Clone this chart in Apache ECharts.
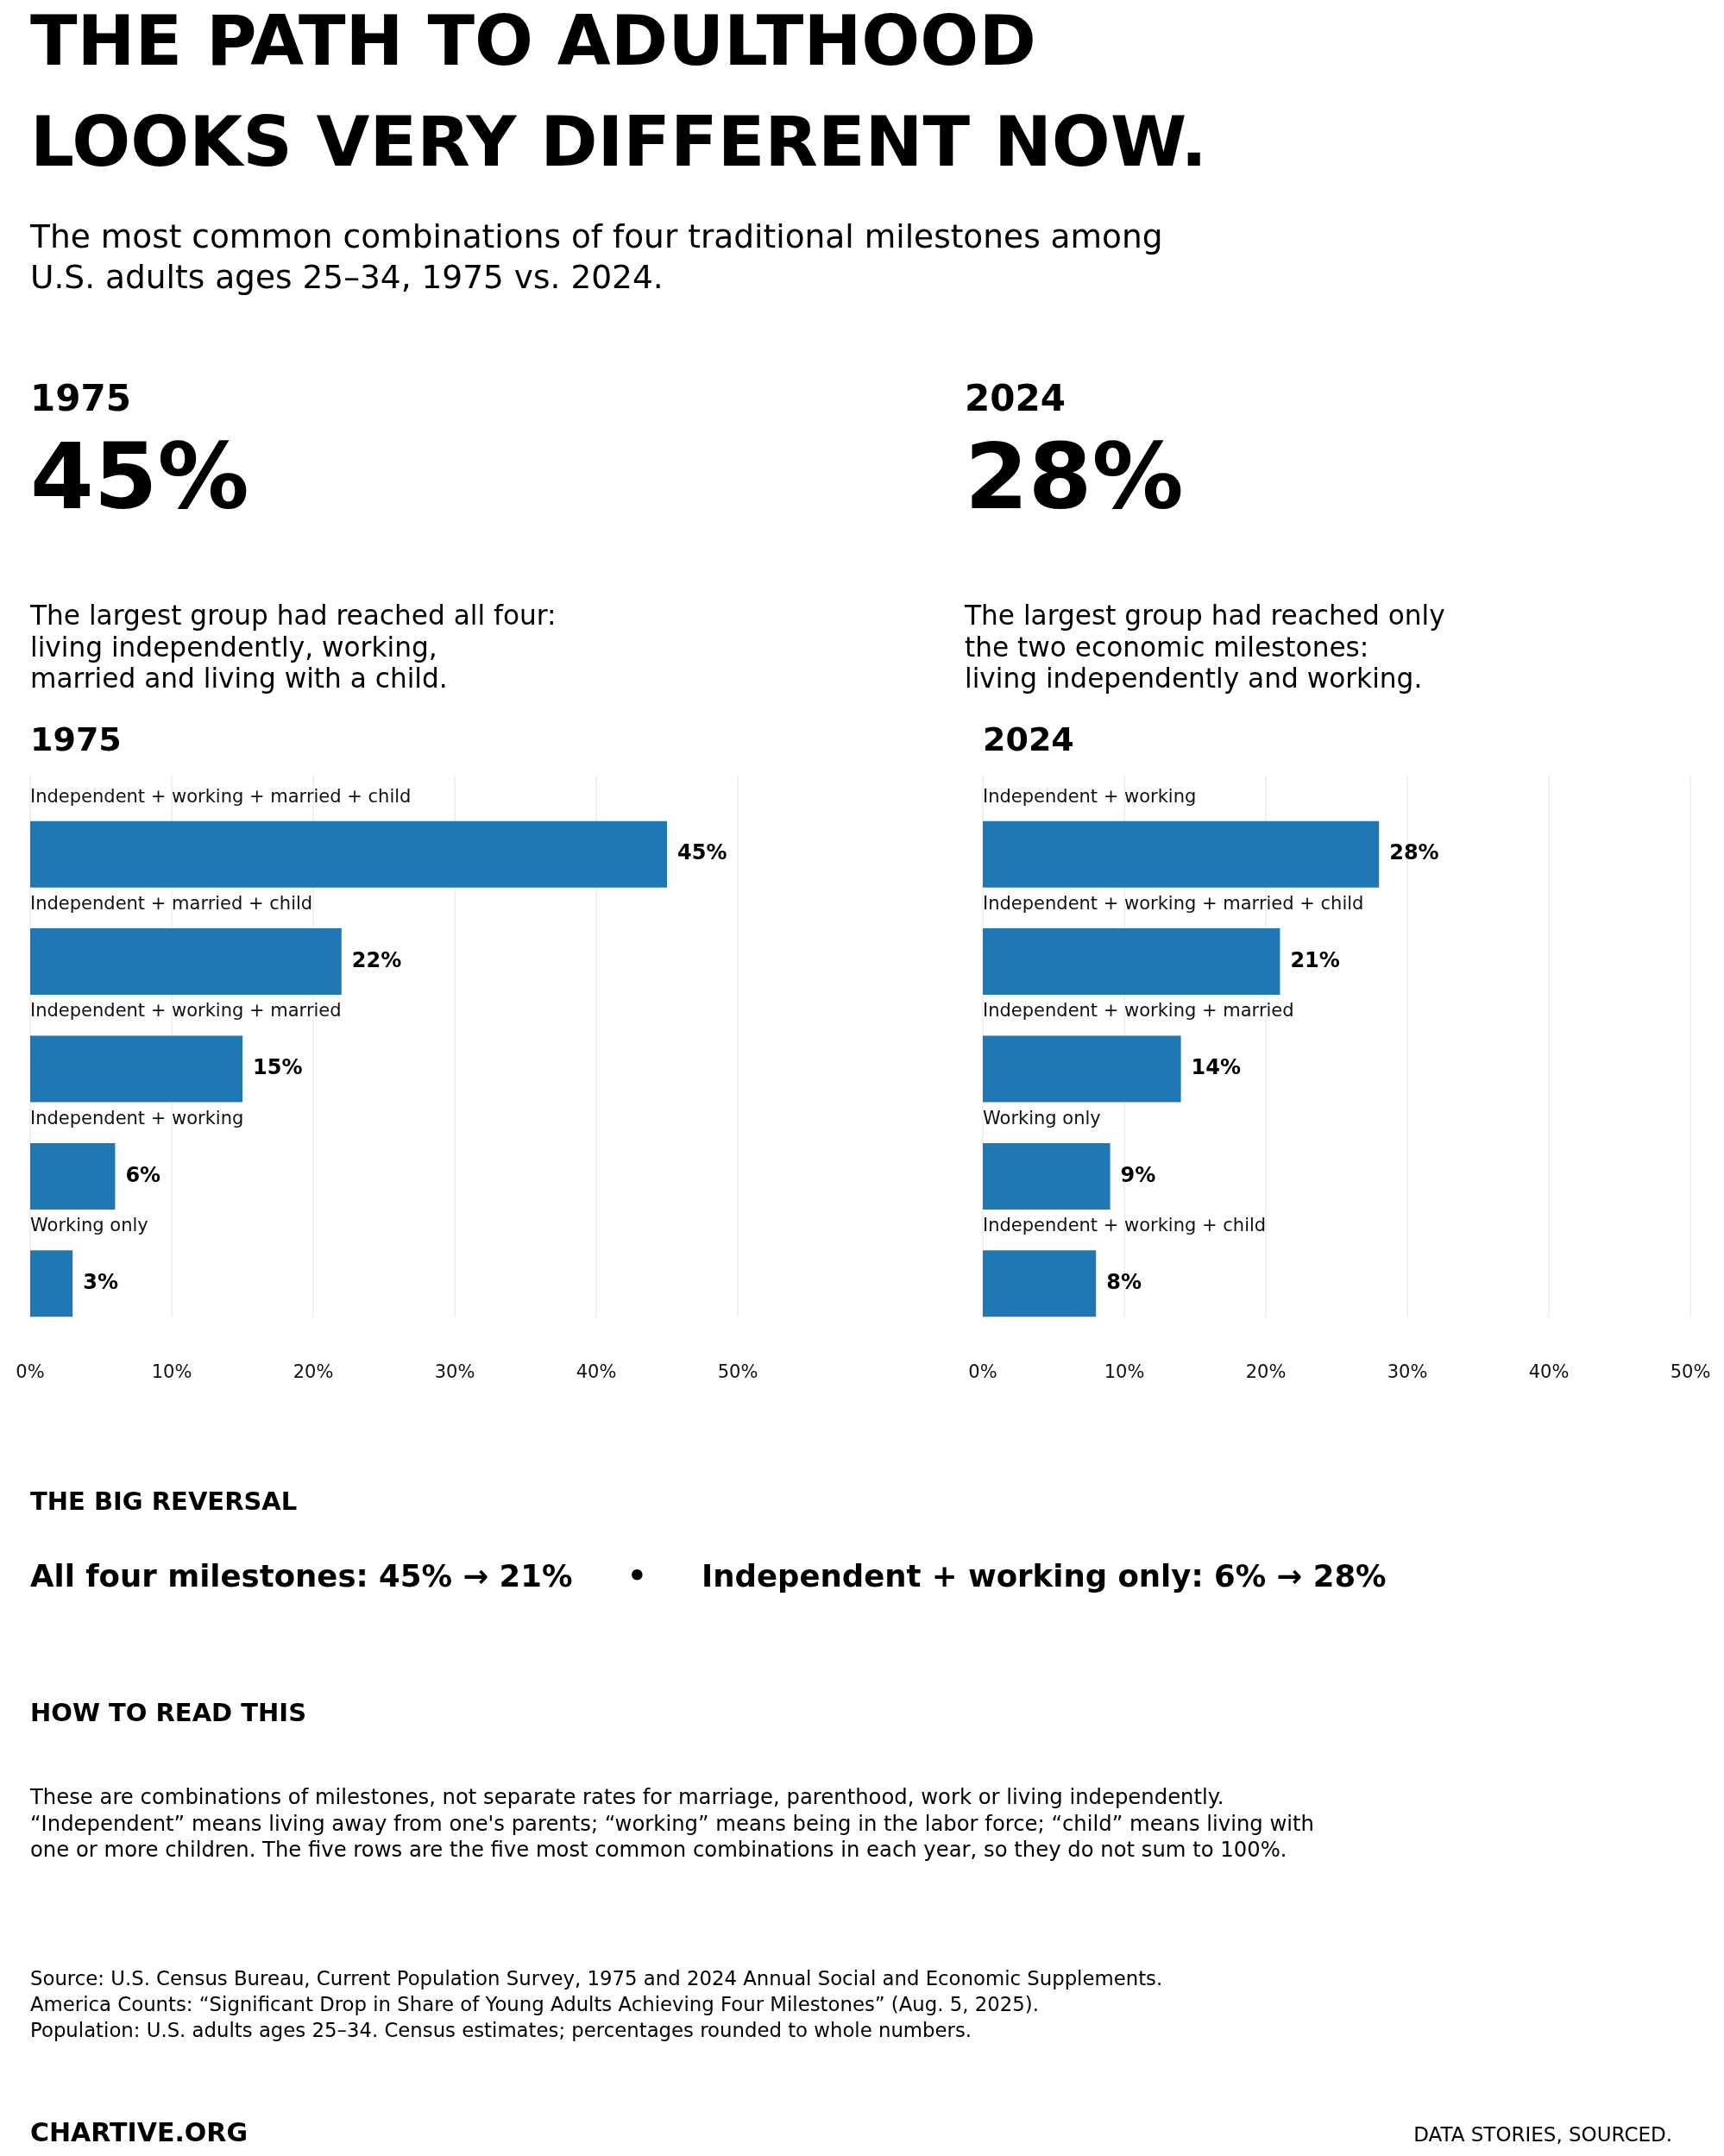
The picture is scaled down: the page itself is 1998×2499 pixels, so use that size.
<!DOCTYPE html>
<html><head><meta charset="utf-8">
<script src="https://cdn.jsdelivr.net/npm/echarts@6/dist/echarts.min.js"></script>
<style>html,body{margin:0;padding:0;background:#fff}#c{width:1998px;height:2499px}</style>
</head><body><div id="c"></div>
<script>
const cats1975 = ['Independent + working + married + child','Independent + married + child','Independent + working + married','Independent + working','Working only'];
const vals1975 = [45,22,15,6,3];
const cats2024 = ['Independent + working','Independent + working + married + child','Independent + working + married','Working only','Independent + working + child'];
const vals2024 = [28,21,14,9,8];
const xTicks = [0,10,20,30,40,50];

const F = 'DejaVu Sans';
const chart = echarts.init(document.getElementById('c'));
const L = [35, 1139], W = 820;
const grids = [], xAxes = [], yAxes = [], series = [];
[[cats1975, vals1975], [cats2024, vals2024]].forEach(([cats, vals], i) => {
  grids.push({left: L[i], width: W, top: 899, height: 628});
  xAxes.push({gridIndex: 2*i, type: 'value', min: xTicks[0], max: xTicks[xTicks.length-1], interval: 10,
    axisLine:{show:false}, axisTick:{show:false},
    splitLine:{lineStyle:{color:'#ececec', width:1.5}},
    axisLabel:{formatter: v => v + '%', fontFamily: F, fontSize: 21, color:'#111', margin: 54}});
  yAxes.push({gridIndex: 2*i, type:'category', data: cats, show:false});
  grids.push({left: L[i], width: W, top: 928, height: 622});
  xAxes.push({gridIndex: 2*i+1, type:'value', min:0, max:50, show:false});
  yAxes.push({gridIndex: 2*i+1, type:'category', data: cats, inverse:true, show:false});
  series.push({type:'bar', xAxisIndex: 2*i+1, yAxisIndex: 2*i+1, data: vals, barWidth: 77,
    itemStyle:{color:'#1f77b4'}, z: 3,
    label:{show:true, position:'right', distance: 12, formatter: p => p.value + '%',
      fontFamily: F, fontWeight:'bold', fontSize: 24, color:'#000'}});
  series.push({type:'bar', xAxisIndex: 2*i+1, yAxisIndex: 2*i+1, data: vals.map(()=>50), barWidth: 77,
    barGap:'-100%', itemStyle:{color:'rgba(0,0,0,0)'}, silent:true, z: 2,
    label:{show:true, position:[0,-38], formatter: p => cats[p.dataIndex],
      fontFamily: F, fontSize: 21, color:'#111'}});
});

function t(x, y, text, size, weight, opts) {
  return Object.assign({type:'text', x, y: y - 1, style: Object.assign({text, fontFamily: F, fontSize: size,
    fontWeight: weight || 'normal', fill:'#000', textVerticalAlign:'middle'}, (opts||{}))});
}
const g = [
  t(35, 55, 'THE PATH TO ADULTHOOD', 80, 'bold'),
  t(35, 172, 'LOOKS VERY DIFFERENT NOW.', 80, 'bold'),
  t(35, 278, 'The most common combinations of four traditional milestones among', 37.5),
  t(35, 325, 'U.S. adults ages 25–34, 1975 vs. 2024.', 37.5),
  t(35, 466, '1975', 42, 'bold'), t(1118, 466, '2024', 42, 'bold'),
  t(35, 562, '45%', 106, 'bold'), t(1118, 562, '28%', 106, 'bold'),
  t(35, 717, 'The largest group had reached all four:', 31.2),
  t(35, 754, 'living independently, working,', 31.2),
  t(35, 790, 'married and living with a child.', 31.2),
  t(1118, 717, 'The largest group had reached only', 31.2),
  t(1118, 754, 'the two economic milestones:', 31.2),
  t(1118, 790, 'living independently and working.', 31.2),
  t(35, 861, '1975', 38, 'bold'), t(1139, 861, '2024', 38, 'bold'),
  t(35, 1743, 'THE BIG REVERSAL', 29, 'bold'),
  t(35, 1831, 'All four milestones: 45% → 21%', 35.5, 'bold'),
  t(727, 1831, '•', 35.5, 'bold'),
  t(813, 1831, 'Independent + working only: 6% → 28%', 35.5, 'bold'),
  t(35, 1988, 'HOW TO READ THIS', 29, 'bold'),
  t(35, 2086, 'These are combinations of milestones, not separate rates for marriage, parenthood, work or living independently.', 24.3),
  t(35, 2117, '“Independent” means living away from one\'s parents; “working” means being in the labor force; “child” means living with', 24.3),
  t(35, 2147, 'one or more children. The five rows are the five most common combinations in each year, so they do not sum to 100%.', 24.3),
  t(35, 2296, 'Source: U.S. Census Bureau, Current Population Survey, 1975 and 2024 Annual Social and Economic Supplements.', 22.8),
  t(35, 2326, 'America Counts: “Significant Drop in Share of Young Adults Achieving Four Milestones” (Aug. 5, 2025).', 22.8),
  t(35, 2356, 'Population: U.S. adults ages 25–34. Census estimates; percentages rounded to whole numbers.', 22.8),
  t(35, 2475, 'CHARTIVE.ORG', 30, 'bold'),
  t(1938, 2477, 'DATA STORIES, SOURCED.', 23, 'normal', {textAlign:'right'})
];
chart.setOption({animation:false, backgroundColor:'#fff', grid: grids, xAxis: xAxes, yAxis: yAxes, series, graphic: g});
</script></body></html>
